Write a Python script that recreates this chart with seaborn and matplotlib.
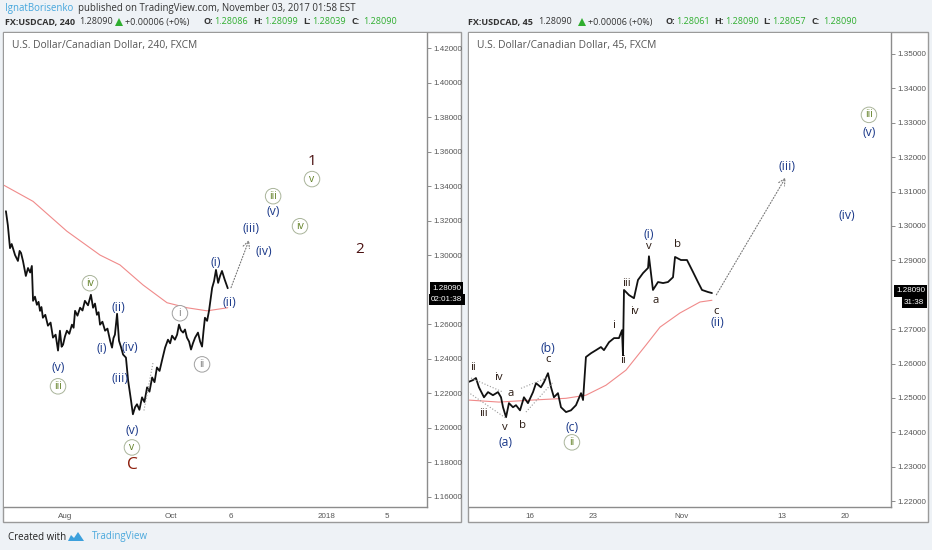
import numpy as np
import pandas as pd
import matplotlib
matplotlib.use("Agg")
import matplotlib.pyplot as plt
import seaborn as sns
from matplotlib.patches import Rectangle, Polygon

# ---------------- data ----------------
# left panel: USDCAD 240 min, x = trading sessions counted from 2017-08-01
left_t = [-24.6, -23.8, -22.9, -22.2, -20.8, -19.6, -18.9, -18.3, -17.5, -16.3,
          -15.4, -14.5, -13.8, -13.3, -12.5, -11.7, -11.0, -10.4, -9.8, -9.2,
          -8.2, -7.1, -6.0, -5.0, -3.9, -2.9, -2.1, -1.4, -0.8, 0.0,
          0.8, 1.8, 2.9, 3.6, 4.2, 5.2, 6.3, 7.3, 8.3, 9.6,
          10.8, 11.7, 12.5, 13.3, 14.0, 14.6, 15.6, 16.7, 17.7, 18.8,
          19.6, 20.2, 20.8, 21.7, 22.5, 23.3, 24.2, 25.4, 26.3, 27.5,
          28.3, 29.2, 30.0, 31.0, 32.1, 33.1, 34.2, 35.2, 36.3, 37.3,
          38.3, 39.4, 40.4, 41.7, 42.9, 43.8, 44.6, 45.8, 46.7, 47.5,
          48.3, 49.2, 50.0, 50.8, 51.7, 52.5, 53.3, 54.2, 55.4, 56.3,
          57.1, 57.7, 58.3, 59.2, 60.0, 61.3, 62.1, 62.9, 63.8, 64.6,
          65.4, 66.5, 67.8]
left_close = [1.3255, 1.3174, 1.3041, 1.3065, 1.3001, 1.2967, 1.3025, 1.3013, 1.2967, 1.2880,
              1.2926, 1.2900, 1.2938, 1.2736, 1.2760, 1.2713, 1.2730, 1.2678, 1.2700, 1.2638,
              1.2655, 1.2592, 1.2610, 1.2523, 1.2540, 1.2448, 1.2563, 1.2470, 1.2482, 1.2530,
              1.2563, 1.2545, 1.2598, 1.2580, 1.2678, 1.2650, 1.2696, 1.2680, 1.2736, 1.2710,
              1.2771, 1.2696, 1.2720, 1.2655, 1.2670, 1.2598, 1.2615, 1.2563, 1.2575, 1.2505,
              1.2465, 1.2520, 1.2540, 1.2661, 1.2505, 1.2470, 1.2425, 1.2407, 1.2275, 1.2160,
              1.2079, 1.2120, 1.2137, 1.2105, 1.2177, 1.2150, 1.2235, 1.2210, 1.2292, 1.2265,
              1.2350, 1.2330, 1.2390, 1.2465, 1.2511, 1.2490, 1.2534, 1.2511, 1.2540, 1.2598,
              1.2565, 1.2552, 1.2570, 1.2523, 1.2500, 1.2454, 1.2490, 1.2523, 1.2552, 1.2500,
              1.2471, 1.2560, 1.2638, 1.2620, 1.2678, 1.2811, 1.2850, 1.2915, 1.2840, 1.2880,
              1.2909, 1.2860, 1.2809]
left_ma_t = [-25.4, -13.3, 0.8, 14.6, 22.9, 32.5, 42.5, 50.8, 59.2, 67.8]
left_ma = [1.3405, 1.3312, 1.3139, 1.3001, 1.2944, 1.2828, 1.2725, 1.2696, 1.2678, 1.2696]
left_tick_dates = ["2017-08-01", "2017-10-02", "2017-11-06", "2018-01-01", "2018-02-05"]
left_tick_labels = ["Aug", "Oct", "6", "2018", "5"]
# 1.28 sits under the last-price tag, so it is not labelled
left_yticks = [1.16, 1.18, 1.20, 1.22, 1.24, 1.26, 1.30, 1.32, 1.34, 1.36, 1.38, 1.40, 1.42]

# right panel: USDCAD 45 min, x = trading sessions counted from 2017-10-16
right_t = [-4.92, -4.52, -4.29, -4.05, -3.65, -3.33, -2.94, -2.54, -2.30, -2.14,
           -1.90, -1.67, -1.35, -1.11, -0.79, -0.48, -0.16, 0.24, 0.48, 0.87,
           1.11, 1.43, 1.67, 1.90, 2.22, 2.46, 2.86, 3.25, 3.65, 4.05,
           4.21, 4.44, 4.84, 5.24, 5.63, 5.87, 6.27, 6.67, 7.06, 7.30,
           7.38, 7.46, 7.86, 8.25, 8.57, 8.97, 9.37, 9.44, 9.76, 10.16,
           10.56, 10.95, 11.35, 11.51, 11.98, 12.46, 12.94, 13.33, 13.65, 14.13,
           14.44]
right_close = [1.2546, 1.2552, 1.2558, 1.2531, 1.2502, 1.2517, 1.2508, 1.2517, 1.2502, 1.2473,
               1.2444, 1.2485, 1.2473, 1.2479, 1.2464, 1.2502, 1.2485, 1.2517, 1.2543, 1.2531,
               1.2546, 1.2572, 1.2531, 1.2502, 1.2514, 1.2473, 1.2459, 1.2464, 1.2479, 1.2514,
               1.2494, 1.2619, 1.2630, 1.2639, 1.2648, 1.2639, 1.2662, 1.2674, 1.2674, 1.2697,
               1.2624, 1.2814, 1.2799, 1.2790, 1.2843, 1.2863, 1.2878, 1.2912, 1.2814, 1.2837,
               1.2834, 1.2837, 1.2851, 1.2910, 1.2901, 1.2901, 1.2866, 1.2837, 1.2814, 1.2808,
               1.2805]
right_ma_t = [-4.92, -2.46, 0.24, 2.86, 4.44, 6.03, 7.62, 9.21, 10.32, 11.90, 13.49, 14.44]
right_ma = [1.2494, 1.2488, 1.2494, 1.2499, 1.2508, 1.2537, 1.2581, 1.2654, 1.2706, 1.2747, 1.2779, 1.2784]
right_tick_dates = ["2017-10-16", "2017-10-23", "2017-11-01", "2017-11-13", "2017-11-20"]
right_tick_labels = ["16", "23", "Nov", "13", "20"]
right_yticks = [1.22, 1.23, 1.24, 1.25, 1.26, 1.27, 1.29, 1.30, 1.31, 1.32, 1.33, 1.34, 1.35]

# wave labels: (session, price, text, style)
left_labels = [
    (-2.9, 1.2351, "(v)", "blue"), (-2.9, 1.2241, "iii", "circ"),
    (10.4, 1.2838, "iv", "circ"), (15.4, 1.2461, "(i)", "blue"),
    (22.1, 1.2699, "(ii)", "blue"), (27.1, 1.2467, "(iv)", "blue"),
    (22.9, 1.2287, "(iii)", "blue"), (27.9, 1.1986, "(v)", "blue"),
    (27.9, 1.1887, "v", "circ"), (27.9, 1.1788, "C", "red"),
    (47.9, 1.2664, "i", "gray"), (57.1, 1.2368, "ii", "gray"),
    (62.9, 1.2959, "(i)", "blue"), (68.3, 1.2728, "(ii)", "blue"),
    (77.5, 1.3157, "(iii)", "blue"), (82.9, 1.3023, "(iv)", "blue"),
    (86.7, 1.3255, "(v)", "blue"), (86.7, 1.3342, "iii", "circ"),
    (97.9, 1.3168, "iv", "circ"), (102.9, 1.3441, "v", "circ"),
    (102.9, 1.3545, "1", "maroon"), (122.9, 1.3035, "2", "maroon"),
]
right_labels = [
    (-4.52, 1.2590, "ii", "black"), (-2.54, 1.2560, "iv", "black"),
    (-3.73, 1.2456, "iii", "black"), (-1.51, 1.2514, "a", "black"),
    (-1.98, 1.2414, "v", "black"), (-1.98, 1.2370, "(a)", "blue"),
    (-0.63, 1.2421, "b", "black"), (1.43, 1.2645, "(b)", "blue"),
    (1.43, 1.2613, "c", "black"), (3.33, 1.2415, "(c)", "blue"),
    (3.33, 1.2371, "ii", "circ"), (6.67, 1.2712, "i", "black"),
    (7.38, 1.2610, "ii", "black"), (7.62, 1.2834, "iii", "black"),
    (8.25, 1.2750, "iv", "black"), (9.44, 1.2939, "v", "black"),
    (9.44, 1.2976, "(i)", "blue"), (10.0, 1.2782, "a", "black"),
    (11.67, 1.2947, "b", "black"), (14.76, 1.2752, "c", "black"),
    (14.84, 1.2718, "(ii)", "blue"), (20.40, 1.3174, "(iii)", "blue"),
    (25.16, 1.3029, "(iv)", "blue"), (26.9, 1.3323, "iii", "circ"),
    (26.9, 1.3273, "(v)", "blue"),
]
# dotted projections / channels: (t0, p0, t1, p1)
left_arrows = [(68.75, 1.2797, 77.1, 1.3104)]
left_channels = [(32.9, 1.2101, 36.7, 1.2380)]
right_arrows = [(14.68, 1.2793, 20.4, 1.3148)]
right_channels = [(-4.68, 1.2558, -2.14, 1.2517), (-4.92, 1.2517, -1.90, 1.2441),
                  (-0.71, 1.2528, 1.43, 1.2560), (-0.32, 1.2459, 1.83, 1.2546)]

# ---------------- style ----------------
sns.set_theme(style="white")
plt.rcParams['font.family'] = ['Open Sans', 'DejaVu Sans']

W, H = 932, 550
BG = '#eef2f6'
AXC = '#8c8c8c'


def fx(x):
    return x / W


def fy(y):
    return 1 - y / H


styles = {
    'blue': dict(color='#1c3a8a', fontsize=8.8),
    'black': dict(color='#2a1a12', fontsize=8.2),
    'red': dict(color='#8b1c0a', fontsize=12.5),
    'maroon': dict(color='#4b1212', fontsize=11),
    'circ': dict(color='#5f7f22', fontsize=7.4,
                 bbox=dict(boxstyle='circle,pad=0.22', fc='white', ec='#a9b49a', lw=0.7)),
    'gray': dict(color='#7a7a7a', fontsize=7.4,
                 bbox=dict(boxstyle='circle,pad=0.22', fc='white', ec='#a0a0a0', lw=0.7)),
}

fig = plt.figure(figsize=(W / 100, H / 100), dpi=100, facecolor=BG)


def panel(x0, x1, frame_r, xlim, ylim, t, close, ma_t, ma, tick_dates, anchor,
          tick_labels, yticks, labels, arrows, channels):
    fig.add_artist(Rectangle((fx(x0 - 1), fy(522)), fx(frame_r - x0 + 1), (522 - 32) / H,
                             transform=fig.transFigure, fc='white', ec='#9a9a9a', lw=1, zorder=0))
    ax = fig.add_axes([fx(x0), fy(507), fx(x1 - x0), (507 - 33) / H])
    ax.set_facecolor('white')
    df = pd.DataFrame({'t': t, 'close': close})
    dma = pd.DataFrame({'t': ma_t, 'ma': ma})
    sns.lineplot(data=dma, x='t', y='ma', ax=ax, color='#f08a8a', lw=0.8,
                 sort=False, estimator=None)
    sns.lineplot(data=df, x='t', y='close', ax=ax, color='#111111', lw=1.3,
                 sort=False, estimator=None)
    for (a, b, c, d) in channels:
        ax.plot([a, c], [b, d], ls=':', color='#999999', lw=0.8)
    for (a, b, c, d) in arrows:
        ax.annotate('', xy=(c, d), xytext=(a, b),
                    arrowprops=dict(arrowstyle='->', ls=':', color='#777777', lw=0.8))
    for (tt, pp, s, k) in labels:
        ax.text(tt, pp, s, ha='center', va='center', **styles[k])
    ax.set_xlim(*xlim)
    ax.set_ylim(*ylim)
    xt = [np.busday_count(anchor, d) for d in tick_dates]
    ax.set_xticks(xt)
    ax.set_xticklabels(tick_labels)
    ax.set_yticks(yticks)
    ax.set_yticklabels(['%.5f' % v for v in yticks])
    ax.yaxis.tick_right()
    ax.tick_params(axis='both', direction='out', length=3, width=0.7, color=AXC,
                   labelsize=5.8, labelcolor='#555555', pad=1.5)
    for lab in ax.get_xticklabels() + ax.get_yticklabels():
        lab.set_family('Liberation Sans')
    for s in ['top', 'left']:
        ax.spines[s].set_visible(False)
    for s in ['right', 'bottom']:
        ax.spines[s].set_color(AXC)
        ax.spines[s].set_linewidth(1.0)
    ax.set_xlabel('')
    ax.set_ylabel('')
    ax.grid(False)
    return ax


axl = panel(4, 427, 461, (-25.4, 150.8), (1.1542, 1.4287), left_t, left_close,
            left_ma_t, left_ma, left_tick_dates, "2017-08-01", left_tick_labels,
            left_yticks, left_labels, left_arrows, left_channels)
axr = panel(469, 891, 928, (-4.84, 28.65), (1.2183, 1.3561), right_t, right_close,
            right_ma_t, right_ma, right_tick_dates, "2017-10-16", right_tick_labels,
            right_yticks, right_labels, right_arrows, right_channels)

# panel titles
axl.text(0.019, 0.973, 'U.S. Dollar/Canadian Dollar, 240, FXCM',
         transform=axl.transAxes, ha='left', va='center', fontsize=7.4, color='#555555')
axr.text(0.019, 0.973, 'U.S. Dollar/Canadian Dollar, 45, FXCM',
         transform=axr.transAxes, ha='left', va='center', fontsize=7.4, color='#555555')


# header
def put(x, y, s, color='#333333', weight='normal', size=6.8, **kw):
    fig.text(fx(x), fy(y), s, color=color, fontweight=weight, fontsize=size,
             ha='left', va='center', **kw)


put(5, 8, 'IgnatBorisenko', color='#45a6dc', size=6.9)
put(78, 8, 'published on TradingView.com, November 03, 2017 01:58 EST', size=6.9)

GREEN = '#2fae2f'
header_left = [(5, 'FX:USDCAD, 240', '#333333', 'bold'), (79, '1.28090', '#333333', 'normal'),
               (125, '+0.00006 (+0%)', '#333333', 'normal'), (203, 'O:', '#333333', 'bold'),
               (214, '1.28086', GREEN, 'normal'), (253, 'H:', '#333333', 'bold'),
               (264, '1.28099', GREEN, 'normal'), (303, 'L:', '#333333', 'bold'),
               (312, '1.28039', GREEN, 'normal'), (352, 'C:', '#333333', 'bold'),
               (363, '1.28090', GREEN, 'normal')]
header_right = [(468, 'FX:USDCAD, 45', '#333333', 'bold'), (538, '1.28090', '#333333', 'normal'),
                (588, '+0.00006 (+0%)', '#333333', 'normal'), (665, 'O:', '#333333', 'bold'),
                (676, '1.28061', GREEN, 'normal'), (714, 'H:', '#333333', 'bold'),
                (725, '1.28090', GREEN, 'normal'), (763, 'L:', '#333333', 'bold'),
                (772, '1.28057', GREEN, 'normal'), (812, 'C:', '#333333', 'bold'),
                (823, '1.28090', GREEN, 'normal')]
for x, s, c, w in header_left + header_right:
    put(x, 22, s, color=c, weight=w, size=6.5)
for x in (115, 578):
    fig.add_artist(Polygon([(fx(x), fy(26)), (fx(x + 8), fy(26)), (fx(x + 4), fy(18))],
                           closed=True, transform=fig.transFigure, fc=GREEN, ec='none'))


# last price tags
def tag(x, y, s):
    fig.text(fx(x), fy(y), s, color='white', fontsize=5.8, family='Liberation Sans',
             ha='left', va='center',
             bbox=dict(boxstyle='square,pad=0.3', fc='black', ec='none'))


tag(432, 288, '1.28090')
tag(431, 299.5, '02:01:38')
tag(896, 291, '1.28090')
tag(904, 302.5, '31:38')

# footer
put(8, 537, 'Created with', color='#222222', size=7)
fig.add_artist(Polygon([(fx(68), fy(541)), (fx(71), fy(535)), (fx(74), fy(538)),
                        (fx(78), fy(532)), (fx(84), fy(541))],
                       closed=True, transform=fig.transFigure, fc='#3ca0dc', ec='none'))
put(92, 537, 'TradingView', color='#4aa8dc', size=7)

fig.savefig('out.png', dpi=100, facecolor=BG)
